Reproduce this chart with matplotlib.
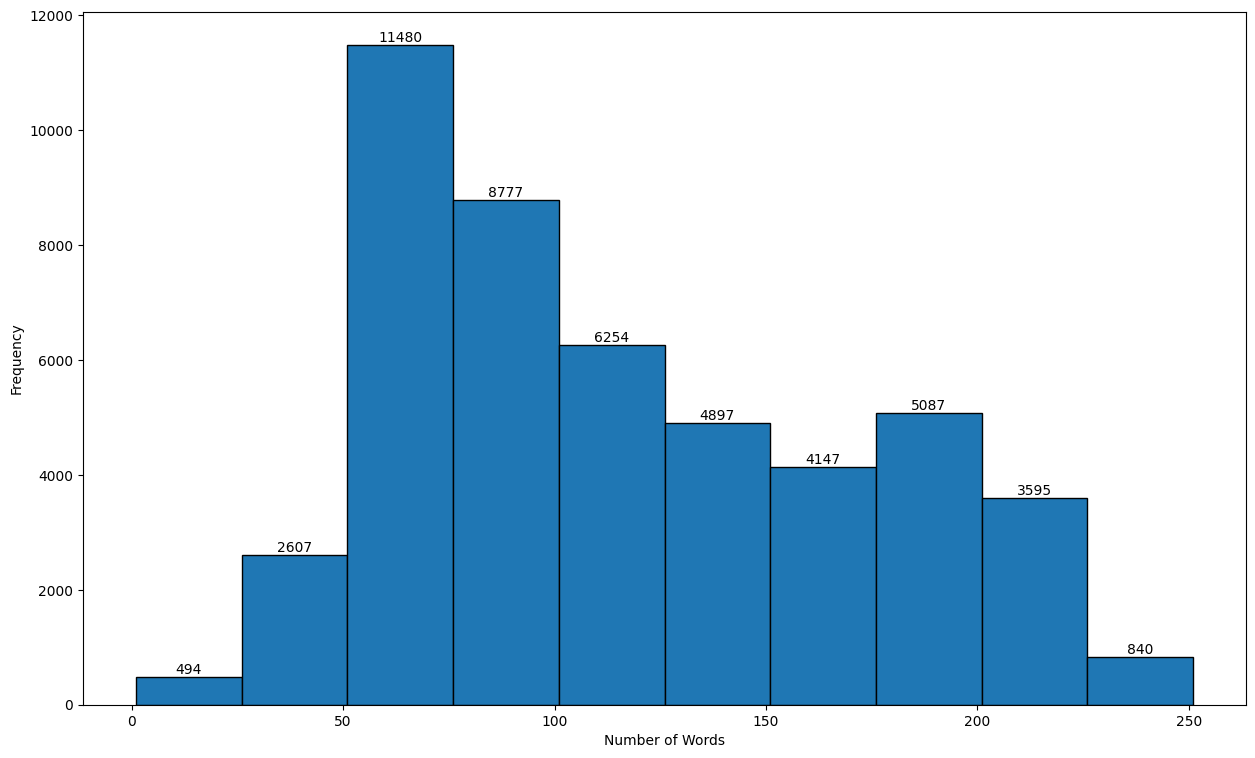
import matplotlib
matplotlib.use("Agg")
import matplotlib.pyplot as plt
import numpy as np

bin_edges = [1, 26, 51, 76, 101, 126, 151, 176, 201, 226, 251]
counts = [494, 2607, 11480, 8777, 6254, 4897, 4147, 5087, 3595, 840]

fig = plt.figure(figsize=(12.55, 7.58), dpi=100)
ax = fig.add_axes([83/1255, 1 - 705/758, (1246-83)/1255, (705-12)/758])

edges = np.array(bin_edges, dtype=float)
widths = np.diff(edges)
bars = ax.bar(edges[:-1], counts, width=widths, align='edge',
              color='#1f77b4', edgecolor='black', linewidth=1.0)
ax.bar_label(bars, labels=[str(c) for c in counts], fontsize=10)

ax.set_xlabel('Number of Words')
ax.set_ylabel('Frequency')

fig.savefig('out.png', dpi=100)
